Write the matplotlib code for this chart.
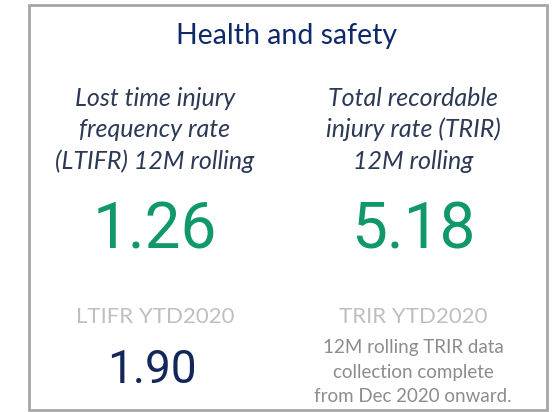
import matplotlib.pyplot as plt
from matplotlib.patches import Rectangle

title = "Health and safety"
kpi_labels = ["Lost time injury\nfrequency rate\n(LTIFR) 12M rolling",
              "Total recordable\ninjury rate (TRIR)\n12M rolling"]
kpi_values = [1.26, 5.18]
ytd_labels = ["LTIFR YTD2020", "TRIR YTD2020"]
ytd_values = ["1.90", None]
ytd_notes = [None, "12M rolling TRIR data\ncollection complete\nfrom Dec 2020 onward."]

W, H = 552, 412
fig = plt.figure(figsize=(W / 100, H / 100), dpi=100)
ax = fig.add_axes([0, 0, 1, 1])
ax.set_xlim(0, W)
ax.set_ylim(H, 0)
ax.axis('off')

# card border
ax.add_patch(Rectangle((29, 5), 518, 405, fill=False, edgecolor="#a6a6a6", linewidth=2))

text_font = "Lato"
num_font = "Roboto"

ax.text(287, 36, title, ha='center', va='center', fontsize=20.5, color="#0f2a6b", family=text_font)

cols = [155, 413]
for i, cx in enumerate(cols):
    # italic description
    for j, line in enumerate(kpi_labels[i].split("\n")):
        ax.text(cx, 98 + j * 31.5, line, ha='center', va='center', fontsize=18,
                style='italic', color="#2d3a55", family=text_font)
    ax.text(cx, 230, f"{kpi_values[i]:.2f}", ha='center', va='center', fontsize=46,
            color="#10976a", family=num_font)
    ax.text(cx, 317, ytd_labels[i], ha='center', va='center', fontsize=16,
            color="#bfbfbf", family=text_font)
    if ytd_values[i] is not None:
        ax.text(cx - 3, 370, ytd_values[i], ha='center', va='center', fontsize=33,
                color="#14275a", family=num_font)
    if ytd_notes[i] is not None:
        for j, line in enumerate(ytd_notes[i].split("\n")):
            ax.text(cx, 348 + j * 24.5, line, ha='center', va='center', fontsize=13.5,
                    color="#8c8c8c", family=text_font)

fig.savefig("out.png", dpi=100)
